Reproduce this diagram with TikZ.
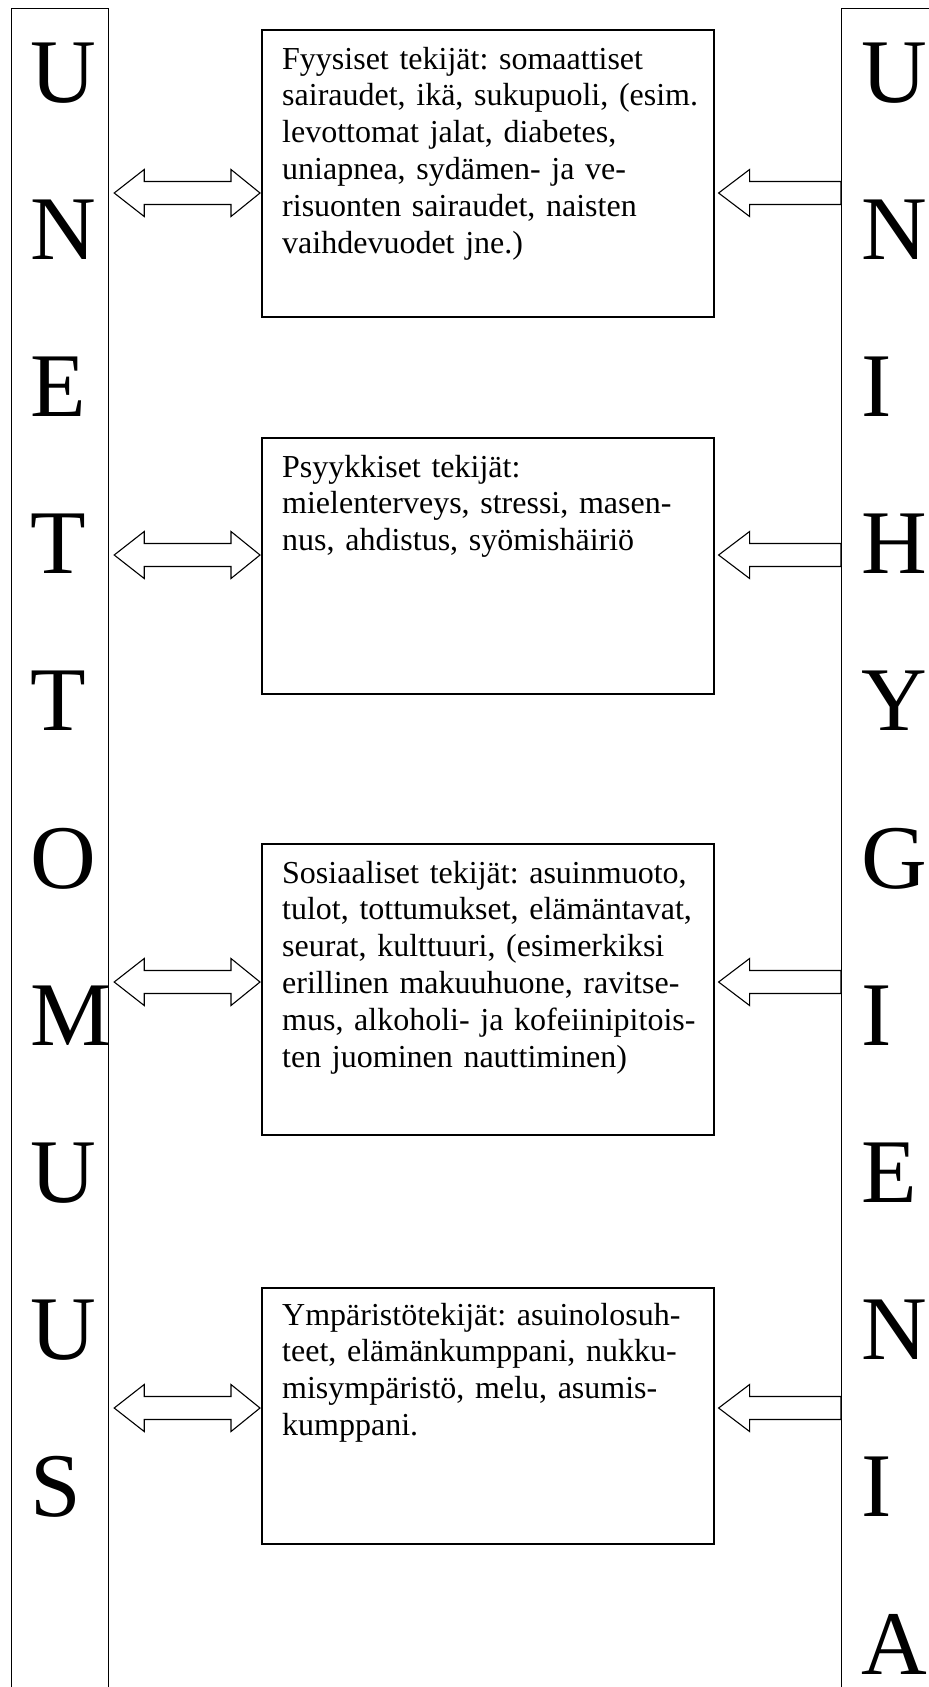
\documentclass[tikz,border=0pt]{standalone}
\usepackage{fontspec}
\setmainfont{Liberation Serif}
\usetikzlibrary{calc}
\frenchspacing

% hollow block arrow with two heads, from #1 to #2
\newcommand{\twoway}[2]{%
  \draw[blockarrow] (#1) -- ($(#1)+(30,-23.5)$) -- ($(#1)+(30,-11.5)$)
    -- ($(#2)+(-29,-11.5)$) -- ($(#2)+(-29,-23.5)$) -- (#2)
    -- ($(#2)+(-29,23.5)$) -- ($(#2)+(-29,11.5)$)
    -- ($(#1)+(30,11.5)$) -- ($(#1)+(30,23.5)$) -- cycle;}
% hollow block arrow with one head, from #1 (tail) to #2 (tip)
\newcommand{\oneway}[2]{%
  \draw[blockarrow] (#2) -- ($(#2)+(31,-23.5)$) -- ($(#2)+(31,-11.5)$)
    -- ($(#1)+(0,-11.5)$) -- ($(#1)+(0,11.5)$)
    -- ($(#2)+(31,11.5)$) -- ($(#2)+(31,23.5)$) -- cycle;}

\begin{document}
\begin{tikzpicture}[x=1pt, y=-1pt,
    column/.style={draw, line width=1.2pt, inner sep=0, anchor=north west, minimum height=1760},
    factor/.style={draw, line width=1.6pt, inner sep=0, anchor=north west, minimum width=452},
    factortext/.style={anchor=base west, inner sep=0, text width=440, align=left,
      font=\fontsize{32}{36.8}\selectfont},
    bigletter/.style={anchor=base west, inner sep=0, font=\fontsize{91}{91}\selectfont},
    blockarrow/.style={line width=1.1pt, line join=miter}]
        \clip (0,0) rectangle (929,1687);
        % Columns
        \node[column, minimum width=97] (unet) at (11,8) {};
        \node[column, minimum width=150] (unhyg) at (841,8) {};
        % Column letters
        \foreach \ch [count=\i from 0] in {U,N,E,T,T,O,M,U,U,S}
            \node[bigletter] (ul\i) at (30.5, {102+157.2*\i}) {\ch};
        \foreach \ch [count=\i from 0] in {U,N,I,H,Y,G,I,E,N,I,A}
            \node[bigletter] (ur\i) at (861.5, {102+157.2*\i}) {\ch};
        % Factor boxes
        \node[factor, minimum height=287] (fyys) at (261,29) {};
        \node[factor, minimum height=256] (psyyk) at (261,437) {};
        \node[factor, minimum height=291] (sos) at (261,843) {};
        \node[factor, minimum height=256] (ymp) at (261,1287) {};
        % Box texts
        \node[factortext] (fyystxt) at ($(fyys.north west)+(21,40)$)
            {Fyysiset tekijät: somaattiset\\ sairaudet, ikä, sukupuoli, (esim.\\ levottomat jalat, diabetes,\\ uniapnea, sydämen- ja ve-\\ risuonten sairaudet, naisten\\ vaihdevuodet jne.)};
        \node[factortext] (psyyktxt) at ($(psyyk.north west)+(21,40)$)
            {Psyykkiset tekijät:\\ mielenterveys, stressi, masen-\\ nus, ahdistus, syömishäiriö};
        \node[factortext] (sostxt) at ($(sos.north west)+(21,40)$)
            {Sosiaaliset tekijät: asuinmuoto,\\ tulot, tottumukset, elämäntavat,\\ seurat, kulttuuri, (esimerkiksi\\ erillinen makuuhuone, ravitse-\\ mus, alkoholi- ja kofeiinipitois-\\ ten juominen nauttiminen)};
        \node[factortext] (ymptxt) at ($(ymp.north west)+(21,38)$)
            {Ympäristötekijät: asuinolosuh-\\ teet, elämänkumppani, nukku-\\ misympäristö, melu, asumis-\\ kumppani.};
        % Arrows
        \foreach \b/\y in {fyys/193, psyyk/555, sos/982, ymp/1408} {
            \coordinate (\b-l) at ($(unet.east |- 0,\y)+(5,0)$);
            \coordinate (\b-r) at ($(\b.west |- 0,\y)+(-1,0)$);
            \coordinate (\b-t) at ($(\b.east |- 0,\y)+(4,0)$);
            \coordinate (\b-s) at (unhyg.west |- 0,\y);
            \twoway{\b-l}{\b-r}
            \oneway{\b-s}{\b-t}
        }
    \end{tikzpicture}
\end{document}
